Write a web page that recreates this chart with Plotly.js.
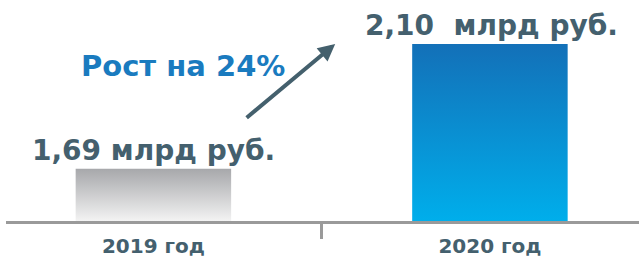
<!DOCTYPE html>
<html>
<head>
<meta charset="utf-8">
<script src="https://cdn.plot.ly/plotly-3.0.1.min.js"></script>
<style>html,body{margin:0;padding:0;background:#fff;}#chart{width:639px;height:259px;}</style>
</head>
<body>
<div id="chart"></div>
<script>
var categories = ['2019 год', '2020 год'];
var values = [1.69, 2.10];
var valueLabels = ['1,69 млрд руб.', '2,10\u00a0 млрд руб.'];
var growthLabel = 'Рост на 24%';
var barColors = ['#cfd0d2', '#0a8fd4'];
var gradients = [['#a7a8ab', '#f3f3f3'], ['#1370b8', '#00aeeb']];
var yMin = 1.519, yMax = 2.244;

var FONT = '"DejaVu Sans", sans-serif';
var SLATE = '#44606e';
var BLUE = '#1a7bbf';

var trace = {
  type: 'bar',
  x: categories,
  y: values.map(function (v) { return v - yMin; }),
  base: yMin,
  marker: {color: barColors, line: {width: 0}},
  hoverinfo: 'none'
};

var annotations = categories.map(function (c, i) {
  return {
    xref: 'x', yref: 'y', x: c, y: values[i],
    text: valueLabels[i], showarrow: false,
    xanchor: 'center', yanchor: 'bottom', yshift: 0, xshift: i === 1 ? 2 : 0,
    font: {family: FONT, size: 28, weight: 'bold', color: SLATE}
  };
});
annotations.push({
  xref: 'paper', yref: 'paper', x: 0.279, y: 0.70,
  text: growthLabel, showarrow: false,
  xanchor: 'center', yanchor: 'middle',
  font: {family: FONT, size: 29, weight: 'bold', color: BLUE}
});
annotations.push({
  xref: 'paper', yref: 'paper', x: 0.52, y: 0.801,
  text: '', showarrow: true, ax: -90, ay: 75,
  arrowhead: 2, arrowsize: 0.85, arrowwidth: 4, arrowcolor: '#44606d', standoff: 0
});

var layout = {
  width: 639, height: 259,
  margin: {l: 6, r: 0, t: 0, b: 38, pad: 0},
  paper_bgcolor: '#ffffff', plot_bgcolor: '#ffffff',
  showlegend: false,
  bargap: 0.538,
  xaxis: {
    type: 'category', range: [-0.438, 1.443],
    showline: true, linecolor: '#9a9a9a', linewidth: 3,
    ticks: 'outside', tickson: 'boundaries', ticklen: 15, tickwidth: 3, tickcolor: '#9a9a9a',
    ticklabelstandoff: 5,
    tickfont: {family: FONT, size: 20, weight: 'bold', color: SLATE},
    showgrid: false, zeroline: false, fixedrange: true
  },
  yaxis: {range: [yMin, yMax], visible: false, showgrid: false, zeroline: false, fixedrange: true},
  annotations: annotations
};

Plotly.newPlot('chart', [trace], layout, {displayModeBar: false, staticPlot: true}).then(function (gd) {
  var svg = gd.querySelector('svg.main-svg');
  var ns = 'http://www.w3.org/2000/svg';
  var defs = svg.querySelector('defs') || svg.insertBefore(document.createElementNS(ns, 'defs'), svg.firstChild);
  gradients.forEach(function (g, i) {
    var lg = document.createElementNS(ns, 'linearGradient');
    lg.setAttribute('id', 'bargrad' + i);
    lg.setAttribute('x1', '0'); lg.setAttribute('y1', '0');
    lg.setAttribute('x2', '0'); lg.setAttribute('y2', '1');
    [[0, g[0]], [1, g[1]]].forEach(function (s) {
      var st = document.createElementNS(ns, 'stop');
      st.setAttribute('offset', s[0]);
      st.setAttribute('stop-color', s[1]);
      lg.appendChild(st);
    });
    defs.appendChild(lg);
  });
  var paths = gd.querySelectorAll('.bars .point path');
  paths.forEach(function (p, i) { p.style.fill = 'url(#bargrad' + i + ')'; });
});
</script>
</body>
</html>
